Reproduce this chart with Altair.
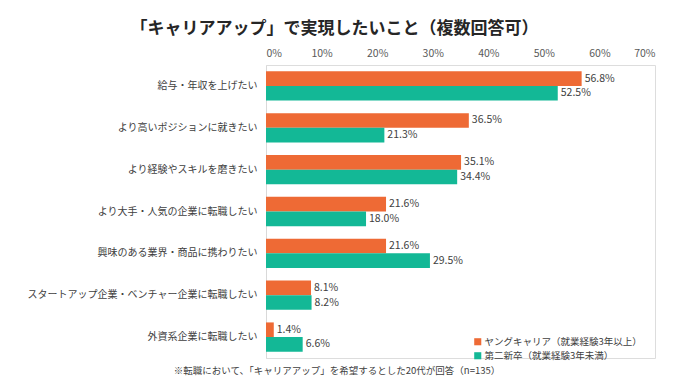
import altair as alt
import pandas as pd

categories = [
    "給与・年収を上げたい",
    "より高いポジションに就きたい",
    "より経験やスキルを磨きたい",
    "より大手・人気の企業に転職したい",
    "興味のある業界・商品に携わりたい",
    "スタートアップ企業・ベンチャー企業に転職したい",
    "外資系企業に転職したい",
]
series_names = ["ヤングキャリア（就業経験3年以上）", "第二新卒（就業経験3年未満）"]
young_career = [56.8, 36.5, 35.1, 21.6, 21.6, 8.1, 1.4]
second_grad = [52.5, 21.3, 34.4, 18.0, 29.5, 8.2, 6.6]
x_ticks = [0, 10, 20, 30, 40, 50, 60, 70]
colors = ["#EE6A35", "#13B896"]
title_text = "「キャリアアップ」で実現したいこと（複数回答可）"
footnote_text = "※転職において、「キャリアアップ」を希望するとした20代が回答（n=135）"

rows = []
for c, a, b in zip(categories, young_career, second_grad):
    rows.append({"category": c, "series": series_names[0], "value": a, "label": f"{a:.1f}%"})
    rows.append({"category": c, "series": series_names[1], "value": b, "label": f"{b:.1f}%"})
df = pd.DataFrame(rows)

FONT = "Noto Sans CJK JP"

y_enc = alt.Y(
    "category:N",
    sort=categories,
    scale=alt.Scale(paddingInner=0.3, paddingOuter=0.15),
    axis=alt.Axis(
        title=None,
        ticks=False,
        domain=True,
        domainColor="#D9D9D9",
        domainWidth=1,
        labelFontSize=10,
        labelColor="#404040",
        labelPadding=9,
        labelLimit=400,
        labelFont=FONT,
    ),
)
x_enc = alt.X(
    "value:Q",
    scale=alt.Scale(domain=[0, 70], nice=False),
    axis=alt.Axis(
        orient="top",
        title=None,
        values=x_ticks,
        labelExpr="datum.value + '%'",
        ticks=False,
        domain=False,
        grid=False,
        labelFontSize=10.5,
        labelColor="#595959",
        labelPadding=7,
        labelFont=FONT,
    ),
)
yoff = alt.YOffset("series:N", sort=series_names)
color_enc = alt.Color(
    "series:N",
    sort=series_names,
    scale=alt.Scale(domain=series_names, range=colors),
    legend=alt.Legend(
        title=None,
        orient="none",
        legendX=207,
        legendY=272,
        symbolType="square",
        symbolSize=50,
        symbolStrokeWidth=0,
        labelFontSize=9.5,
        labelColor="#404040",
        labelFont=FONT,
        labelLimit=400,
        rowPadding=3,
        padding=0,
        labelOffset=2,
    ),
)

base = alt.Chart(df)
bars = base.mark_bar().encode(y=y_enc, x=x_enc, yOffset=yoff, color=color_enc)
labels = base.mark_text(align="left", baseline="middle", dx=3, fontSize=10.5, color="#404040", font=FONT).encode(
    y=alt.Y("category:N", sort=categories), x="value:Q", yOffset=yoff, text="label:N"
)
foot = alt.Chart(pd.DataFrame({"t": [footnote_text]})).mark_text(
    align="center", baseline="middle", fontSize=9.5, color="#404040", font=FONT
).encode(x=alt.value(71), y=alt.value(306), text="t:N")

chart = alt.layer(bars, labels, foot).properties(
    width=389,
    height=293,
    autosize=alt.AutoSizeParams(type="none"),
    padding={"left": 258, "top": 57, "right": 27, "bottom": 18},
    title=alt.TitleParams(
        text=title_text,
        fontSize=17,
        fontWeight="bold",
        font=FONT,
        color="#262626",
        anchor="middle",
        dx=-126,
        offset=10,
    ),
).configure_view(stroke=None).configure(background="white")

chart.save("out.html", embed_options={"renderer": "svg", "actions": False})
